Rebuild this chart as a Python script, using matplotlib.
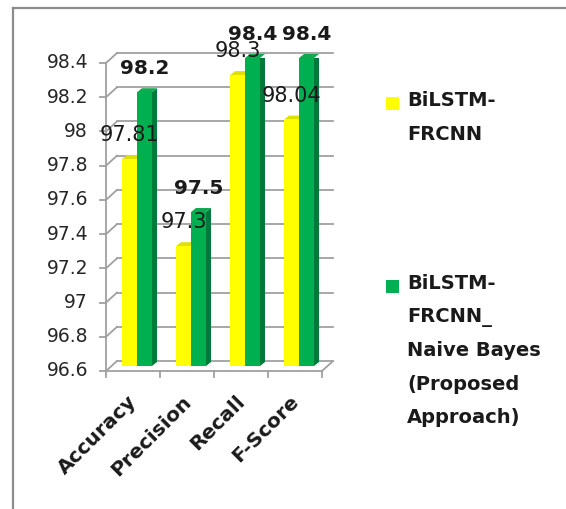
import matplotlib.pyplot as plt
from matplotlib.patches import Polygon, Rectangle

# values per metric
metrics = ['Accuracy', 'Precision', 'Recall', 'F-Score']
bilstm_frcnn = [97.81, 97.3, 98.3, 98.04]
bilstm_frcnn_nb = [98.2, 97.5, 98.4, 98.4]
series_names = ['BiLSTM-\nFRCNN', 'BiLSTM-\nFRCNN_\nNaive Bayes\n(Proposed\nApproach)']
yticks = [96.6, 96.8, 97, 97.2, 97.4, 97.6, 97.8, 98, 98.2, 98.4]
ytick_labels = ['96.6', '96.8', '97', '97.2', '97.4', '97.6', '97.8', '98', '98.2', '98.4']

W, H = 566, 509
fig = plt.figure(figsize=(W / 100, H / 100), dpi=100)

# plot area = front plane of the bars, in pixels
left_px, right_px, bottom_px, top_px = 110, 326, 366, 58
ax = fig.add_axes([left_px / W, 1 - bottom_px / H,
                   (right_px - left_px) / W, (bottom_px - top_px) / H])
ymin, ymax = yticks[0], yticks[-1]
ax.set_xlim(-0.5, len(metrics) - 0.5)
ax.set_ylim(ymin, ymax)
ax.set_axis_off()

px_x = (right_px - left_px) / len(metrics)
px_y = (bottom_px - top_px) / (ymax - ymin)


def dx(p):
    return p / px_x


def dy(p):
    return p / px_y


grid_c = '#a0a0a0'
glw = 1.3
xl, xr = -0.5, len(metrics) - 0.5

# back wall grid, left wall and floor
for v, lab in zip(yticks, ytick_labels):
    ax.plot([xl + dx(7), xr + dx(7)], [v + dy(5)] * 2, color=grid_c, lw=glw, clip_on=False)
    ax.plot([xl + dx(-4), xl + dx(7)], [v - dy(5), v + dy(5)], color=grid_c, lw=glw, clip_on=False)
    ax.plot([xl + dx(-10), xl + dx(-4)], [v - dy(5)] * 2, color=grid_c, lw=glw, clip_on=False)
    ax.text(xl + dx(-22), v - dy(5), lab, ha='right', va='center',
            fontsize=13.5, color='#262626')
ax.plot([xl + dx(-4)] * 2, [ymin - dy(5), ymax - dy(5)], color=grid_c, lw=glw, clip_on=False)
ax.plot([xl + dx(-4), xr + dx(-4)], [ymin - dy(5)] * 2, color=grid_c, lw=glw, clip_on=False)
ax.plot([xr + dx(-4), xr + dx(7)], [ymin - dy(5), ymin + dy(5)], color=grid_c, lw=glw, clip_on=False)
for k in range(len(metrics) + 1):
    xk = xl + k + dx(-4)
    ax.plot([xk, xk], [ymin - dy(5), ymin - dy(11)], color=grid_c, lw=glw, clip_on=False)

# 3d-looking columns
bw = dx(15)
depth_x, depth_y = dx(5), dy(4)
styles = [('#ffff00', '#c8c800', '#e0e000'), ('#00b050', '#007a3a', '#10a850')]
for i in range(len(metrics)):
    for j, vals in enumerate([bilstm_frcnn, bilstm_frcnn_nb]):
        front, side, top = styles[j]
        x0 = i - bw + j * bw
        x1 = x0 + bw
        v = vals[i]
        ax.bar(x0, v - ymin, width=bw, bottom=ymin, align='edge', color=front,
               linewidth=0, zorder=3)
        ax.add_patch(Polygon([(x1, ymin), (x1, v), (x1 + depth_x, v + depth_y),
                              (x1 + depth_x, ymin + depth_y)], closed=True,
                             facecolor=side, lw=0, zorder=2))
        ax.add_patch(Polygon([(x0, v), (x1, v), (x1 + depth_x, v + depth_y),
                              (x0 + depth_x, v + depth_y)], closed=True,
                             facecolor=top, lw=0, zorder=2, clip_on=False))
        ax.text(x0 + bw / 2, v + dy(24), f'{v:g}', ha='center', va='center',
                fontsize=15 if j == 0 else 14.5,
                fontweight='normal' if j == 0 else 'bold', color='#1a1a1a',
                zorder=5, clip_on=False)

for i, name in enumerate(metrics):
    ax.text(i + dx(4), ymin - dy(26), name, rotation=45, ha='right', va='top',
            fontsize=14.5, fontweight='bold', color='#1a1a1a')

# legend
for name, col, ypx, ls in zip(series_names, ['#ffff00', '#00b050'], [104, 287], [2.0, 1.95]):
    fig.patches.append(Rectangle((386 / W, 1 - (ypx + 6) / H), 13 / W, 13 / H,
                                 transform=fig.transFigure, facecolor=col, lw=0))
    fig.text(407 / W, 1 - (ypx - 13) / H, name, ha='left', va='top', fontsize=14,
             fontweight='bold', color='#1a1a1a', linespacing=ls)

# chart frame
fig.add_artist(plt.Line2D([13 / W, 1], [1 - 8 / H] * 2, color='#8c8c8c', lw=1.6))
fig.add_artist(plt.Line2D([13 / W] * 2, [0, 1 - 8 / H], color='#8c8c8c', lw=1.6))

fig.savefig('out.png', dpi=100)
